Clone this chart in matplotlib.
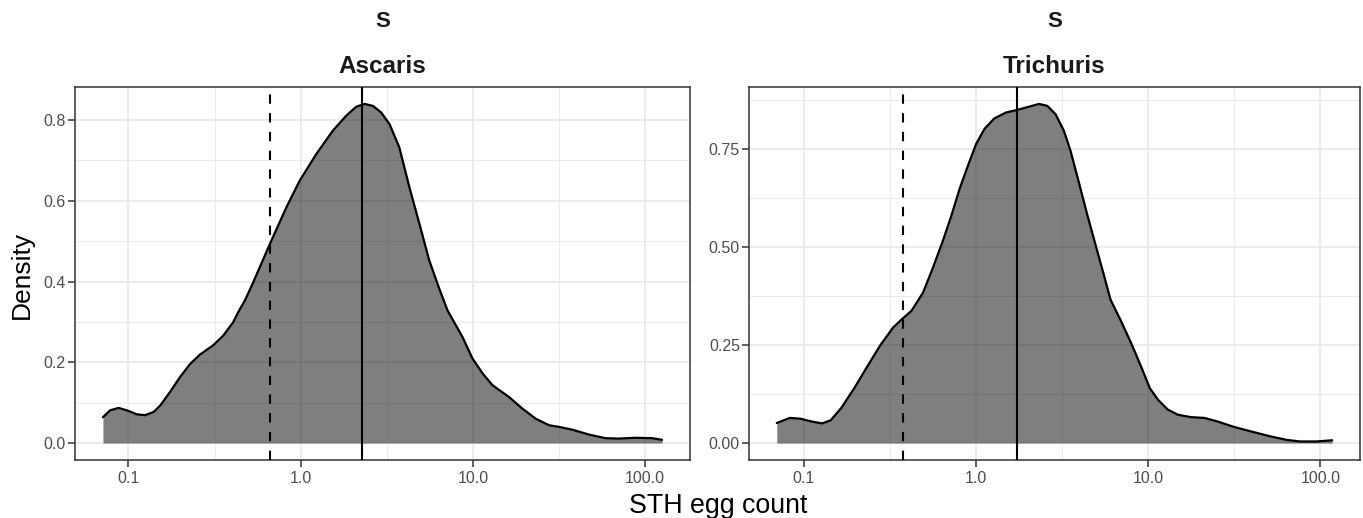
import numpy as np
import matplotlib
matplotlib.use("Agg")
import matplotlib.pyplot as plt
from matplotlib.ticker import FixedLocator, FixedFormatter

plt.rcParams["font.family"] = ["Liberation Sans", "DejaVu Sans"]

# ---------- data ----------
species = ["Ascaris", "Trichuris"]

asc_egg = [0.0711, 0.0783, 0.0875, 0.098, 0.112, 0.125, 0.140, 0.153, 0.174,
           0.199, 0.228, 0.260, 0.310, 0.355, 0.405, 0.4385, 0.474, 0.530, 0.662,
           0.826, 0.987, 1.233, 1.538, 1.84, 2.10, 2.35, 2.63, 2.93, 3.28, 3.74,
           4.28, 4.89, 5.58, 6.38, 7.13, 8.71, 9.95, 11.4, 13.0, 16.2, 19.4, 23.2,
           27.7, 31.6, 37.8, 47.1, 58.9, 70.3, 87.9, 109.7, 125.3]
asc_dens = [0.064, 0.081, 0.087, 0.081, 0.071, 0.069, 0.077, 0.093, 0.126,
            0.163, 0.196, 0.219, 0.242, 0.266, 0.299, 0.328, 0.353, 0.398, 0.493,
            0.584, 0.650, 0.716, 0.774, 0.811, 0.833, 0.840, 0.835, 0.819, 0.790, 0.732,
            0.633, 0.543, 0.452, 0.382, 0.328, 0.262, 0.209, 0.172, 0.143, 0.114, 0.085, 0.060,
            0.044, 0.040, 0.033, 0.021, 0.012, 0.011, 0.013, 0.012, 0.008]

tri_egg = [0.0695, 0.0826, 0.0955, 0.1104, 0.1274, 0.143, 0.165, 0.196, 0.233,
           0.278, 0.330, 0.371, 0.4217, 0.492, 0.562, 0.641, 0.718, 0.801, 0.895,
           1.0, 1.117, 1.275, 1.49, 1.74, 2.03, 2.32, 2.59, 2.89, 3.23, 3.53,
           3.95, 4.41, 4.92, 5.50, 6.03, 7.03, 8.02, 9.16, 10.2, 11.4, 13.0,
           14.9, 17.7, 21.2, 25.2, 31.5, 39.2, 51.1, 63.7, 75.9, 94.6, 117.0]
tri_dens = [0.051, 0.064, 0.062, 0.055, 0.050, 0.058, 0.090, 0.140, 0.195,
            0.250, 0.295, 0.316, 0.3375, 0.384, 0.448, 0.516, 0.580, 0.648, 0.707,
            0.763, 0.801, 0.828, 0.843, 0.850, 0.858, 0.865, 0.860, 0.839, 0.797, 0.746,
            0.665, 0.584, 0.508, 0.431, 0.366, 0.306, 0.251, 0.191, 0.140, 0.110, 0.085,
            0.072, 0.066, 0.064, 0.055, 0.041, 0.030, 0.017, 0.008, 0.004, 0.004, 0.007]

# dashed = lower reference, solid = upper reference
dashed_x = [0.665, 0.374]
solid_x = [2.26, 1.738]

x_ticks = [0.1, 1.0, 10.0, 100.0]
x_minor = [0.316, 3.16, 31.6]
x_labels = ["0.1", "1.0", "10.0", "100.0"]

y_ticks = [[0.0, 0.2, 0.4, 0.6, 0.8], [0.0, 0.25, 0.50, 0.75]]
y_minor = [[0.1, 0.3, 0.5, 0.7], [0.125, 0.375, 0.625, 0.875]]
y_labels = [["0.0", "0.2", "0.4", "0.6", "0.8"], ["0.00", "0.25", "0.50", "0.75"]]

eggs = [asc_egg, tri_egg]
dens = [asc_dens, tri_dens]

# ---------- figure ----------
fig = plt.figure(figsize=(13.63, 5.18), dpi=100)
boxes = [[75 / 1363, 0.112, 615 / 1363, 0.7201],
         [749 / 1363, 0.112, 611 / 1363, 0.7201]]

for i in range(2):
    ax = fig.add_axes(boxes[i])
    ax.set_xscale("log")
    ax.fill_between(eggs[i], 0, dens[i], color="black", alpha=0.5, lw=0, zorder=2)
    ax.plot(eggs[i], dens[i], color="black", lw=1.6, zorder=3,
            solid_joinstyle="round", solid_capstyle="round")
    ax.axvline(dashed_x[i], color="black", lw=1.5, ls=(0, (4.5, 4.5)), zorder=4)
    ax.axvline(solid_x[i], color="black", lw=1.5, zorder=4)

    ax.margins(x=0.05, y=0.05)
    ax.set_ylim(-0.05 * max(dens[i]), 1.05 * max(dens[i]))

    ax.xaxis.set_major_locator(FixedLocator(x_ticks))
    ax.xaxis.set_major_formatter(FixedFormatter(x_labels))
    ax.xaxis.set_minor_locator(FixedLocator(x_minor))
    ax.xaxis.set_minor_formatter(FixedFormatter([]))
    ax.set_yticks(y_ticks[i])
    ax.set_yticklabels(y_labels[i])
    ax.set_yticks(y_minor[i], minor=True)

    ax.grid(which="major", color="#EBEBEB", lw=1.4, zorder=0)
    ax.grid(which="minor", color="#EBEBEB", lw=0.7, zorder=0)
    ax.set_axisbelow(True)

    ax.tick_params(which="major", length=5, width=1.1, color="#333333",
                   labelsize=11.5, labelcolor="#4D4D4D")
    ax.tick_params(axis="x", pad=3)
    ax.tick_params(axis="y", pad=1.5)
    ax.tick_params(which="minor", length=0)
    for s in ax.spines.values():
        s.set_color("#333333")
        s.set_linewidth(1.1)

    cx = boxes[i][0] + boxes[i][2] / 2
    fig.text(cx, 0.948, "S", ha="center", va="baseline", fontsize=16, fontweight="bold", color="#1A1A1A")
    fig.text(cx, 0.859, species[i], ha="center", va="baseline", fontsize=17.5, fontweight="bold", color="#1A1A1A")

fig.text(0.0161, 0.469, "Density", rotation=90, ha="center", va="center", fontsize=19)
fig.text(0.5268, 0.0097, "STH egg count", ha="center", va="baseline", fontsize=19.3)

fig.savefig("out.png", dpi=100)
